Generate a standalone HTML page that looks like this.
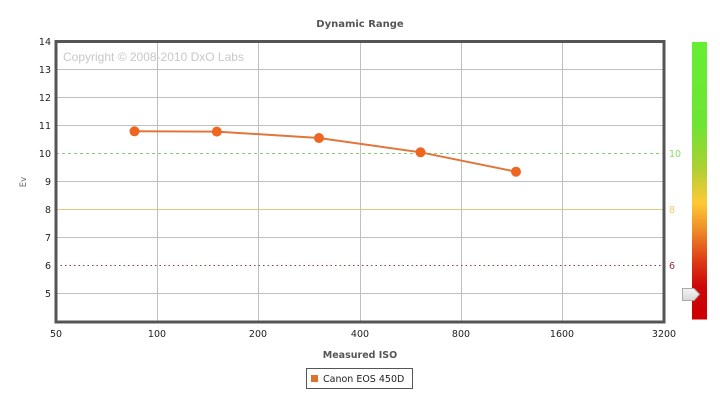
<!DOCTYPE html>
<html><head><meta charset="utf-8"><style>
html,body{margin:0;padding:0;background:#fff;}
svg{display:block;}
text{font-family:"DejaVu Sans","Liberation Sans",sans-serif;}
</style></head><body>
<svg width="720" height="403" viewBox="0 0 720 403" xmlns="http://www.w3.org/2000/svg">
<defs>
<linearGradient id="cb" x1="0" y1="0" x2="0" y2="1">
<stop offset="0" stop-color="#66ee33"/>
<stop offset="0.30" stop-color="#6ee533"/>
<stop offset="0.45" stop-color="#aad033"/>
<stop offset="0.58" stop-color="#ffc933"/>
<stop offset="0.68" stop-color="#ee8a26"/>
<stop offset="0.79" stop-color="#dd3a16"/>
<stop offset="0.88" stop-color="#cc0808"/>
<stop offset="1" stop-color="#cc0000"/>
</linearGradient>
<linearGradient id="ar" x1="0" y1="0" x2="0" y2="1">
<stop offset="0" stop-color="#f4f4f4"/>
<stop offset="1" stop-color="#d8d8d8"/>
</linearGradient>
</defs>
<rect width="720" height="403" fill="#fff"/>
<text x="360" y="27" text-anchor="middle" font-size="10" font-weight="bold" fill="#555">Dynamic Range</text>
<!-- grid -->
<g stroke="#c0c0c0" stroke-width="1">
<line x1="56" y1="69.5" x2="664" y2="69.5"/>
<line x1="56" y1="97.5" x2="664" y2="97.5"/>
<line x1="56" y1="125.5" x2="664" y2="125.5"/>
<line x1="56" y1="181.5" x2="664" y2="181.5"/>
<line x1="56" y1="237.5" x2="664" y2="237.5"/>
<line x1="56" y1="293.5" x2="664" y2="293.5"/>
<line x1="157.5" y1="41" x2="157.5" y2="322"/>
<line x1="258.5" y1="41" x2="258.5" y2="322"/>
<line x1="360.5" y1="41" x2="360.5" y2="322"/>
<line x1="461.5" y1="41" x2="461.5" y2="322"/>
<line x1="562.5" y1="41" x2="562.5" y2="322"/>
</g>
<line x1="56" y1="153.5" x2="664" y2="153.5" stroke="#88cc77" stroke-width="1" stroke-dasharray="3,3"/>
<line x1="56" y1="209.5" x2="664" y2="209.5" stroke="#d8cc80" stroke-width="1"/>
<line x1="56" y1="265.5" x2="664" y2="265.5" stroke="#884040" stroke-width="1" stroke-dasharray="1.5,3"/>
<text x="63" y="61" font-size="12" fill="#c8c8c8" style="font-family:'Liberation Sans',sans-serif">Copyright © 2008-2010 DxO Labs</text>
<!-- series -->
<polyline points="134.5,131.3 216.8,131.6 319,138 420.5,152.3 516,171.7" fill="none" stroke="#e0763a" stroke-width="2"/>
<g fill="#ee6622">
<circle cx="134.5" cy="131.3" r="5"/>
<circle cx="216.8" cy="131.6" r="5"/>
<circle cx="319" cy="138" r="5"/>
<circle cx="420.5" cy="152.3" r="5"/>
<circle cx="516" cy="171.7" r="5"/>
</g>
<rect x="56" y="41.5" width="608" height="280.5" fill="none" stroke="#555" stroke-width="3"/>
<!-- y ticks -->
<g font-size="9.5" fill="#222" text-anchor="end">
<text x="51" y="45">14</text>
<text x="51" y="73">13</text>
<text x="51" y="101">12</text>
<text x="51" y="129">11</text>
<text x="51" y="157">10</text>
<text x="51" y="185">9</text>
<text x="51" y="213">8</text>
<text x="51" y="241">7</text>
<text x="51" y="269">6</text>
<text x="51" y="297">5</text>
</g>
<text x="26" y="182" font-size="8.5" fill="#666" text-anchor="middle" transform="rotate(-90 26 182)">Ev</text>
<!-- x ticks -->
<g font-size="9.5" fill="#222" text-anchor="middle">
<text x="56" y="337">50</text>
<text x="157" y="337">100</text>
<text x="258" y="337">200</text>
<text x="360" y="337">400</text>
<text x="461" y="337">800</text>
<text x="562" y="337">1600</text>
<text x="664" y="337">3200</text>
</g>
<text x="360" y="358" text-anchor="middle" font-size="9.5" font-weight="bold" fill="#555">Measured ISO</text>
<!-- right labels -->
<text x="669" y="157" font-size="9.5" fill="#88dd66">10</text>
<text x="669" y="213" font-size="9.5" fill="#eecc66">8</text>
<text x="669" y="269" font-size="9.5" fill="#993333">6</text>
<!-- colorbar -->
<rect x="692" y="42" width="15" height="277.5" fill="url(#cb)"/>
<path d="M682.5,288.5 L694,288.5 L699.5,294.3 L694,300.5 L682.5,300.5 Z" fill="url(#ar)" stroke="#aaa" stroke-width="1"/>
<!-- legend -->
<rect x="306.5" y="368.5" width="106" height="20" fill="#fff" stroke="#555" stroke-width="1"/>
<rect x="311" y="375" width="7" height="7" fill="#e07030"/>
<text x="323" y="382" font-size="9.5" fill="#222">Canon EOS 450D</text>
</svg>
</body></html>
